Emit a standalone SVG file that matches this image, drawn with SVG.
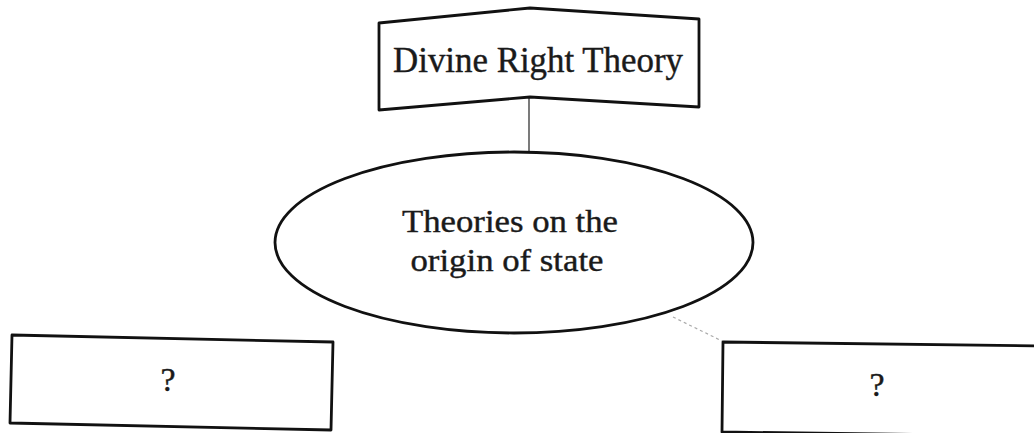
<svg xmlns="http://www.w3.org/2000/svg" width="1034" height="433" viewBox="0 0 1034 433">
<style>
.shape{fill:#fff;stroke:#111;stroke-width:2.8;stroke-linejoin:round}
.lbl{font-family:"Liberation Serif","DejaVu Serif",serif;fill:#1a1a1a;stroke:#1a1a1a;stroke-width:0.4;text-anchor:middle}
.conn{stroke:#333;stroke-width:1.3;fill:none}
.faint{stroke:#aaa;stroke-width:1.2;stroke-dasharray:3 3;fill:none}
</style>
<rect width="1034" height="433" fill="#fff"/>
<g id="connectors">
<line class="conn" x1="529" y1="98" x2="529" y2="152"/>
<line class="faint" x1="673" y1="317" x2="722" y2="341"/>
</g>
<g id="node-divine">
<polygon class="shape" points="379,23 530,8 699,19 699,107 530,97 379,110"/>
<text class="lbl" x="538" y="72" font-size="35" textLength="290" lengthAdjust="spacingAndGlyphs">Divine Right Theory</text>
</g>
<g id="node-theories">
<ellipse class="shape" cx="514" cy="242.5" rx="239" ry="90.5"/>
<text class="lbl" x="510" y="232" font-size="32" textLength="216" lengthAdjust="spacingAndGlyphs">Theories on the</text>
<text class="lbl" x="507" y="271" font-size="32" textLength="193" lengthAdjust="spacingAndGlyphs">origin of state</text>
</g>
<g id="node-left">
<polygon class="shape" points="12,335 333,342 331,430 10,423"/>
<text class="lbl" x="168" y="391" font-size="34">?</text>
</g>
<g id="node-right">
<polygon class="shape" points="723,342 1040,346 1040,436 722,432"/>
<text class="lbl" x="877" y="396" font-size="34">?</text>
</g>
</svg>
